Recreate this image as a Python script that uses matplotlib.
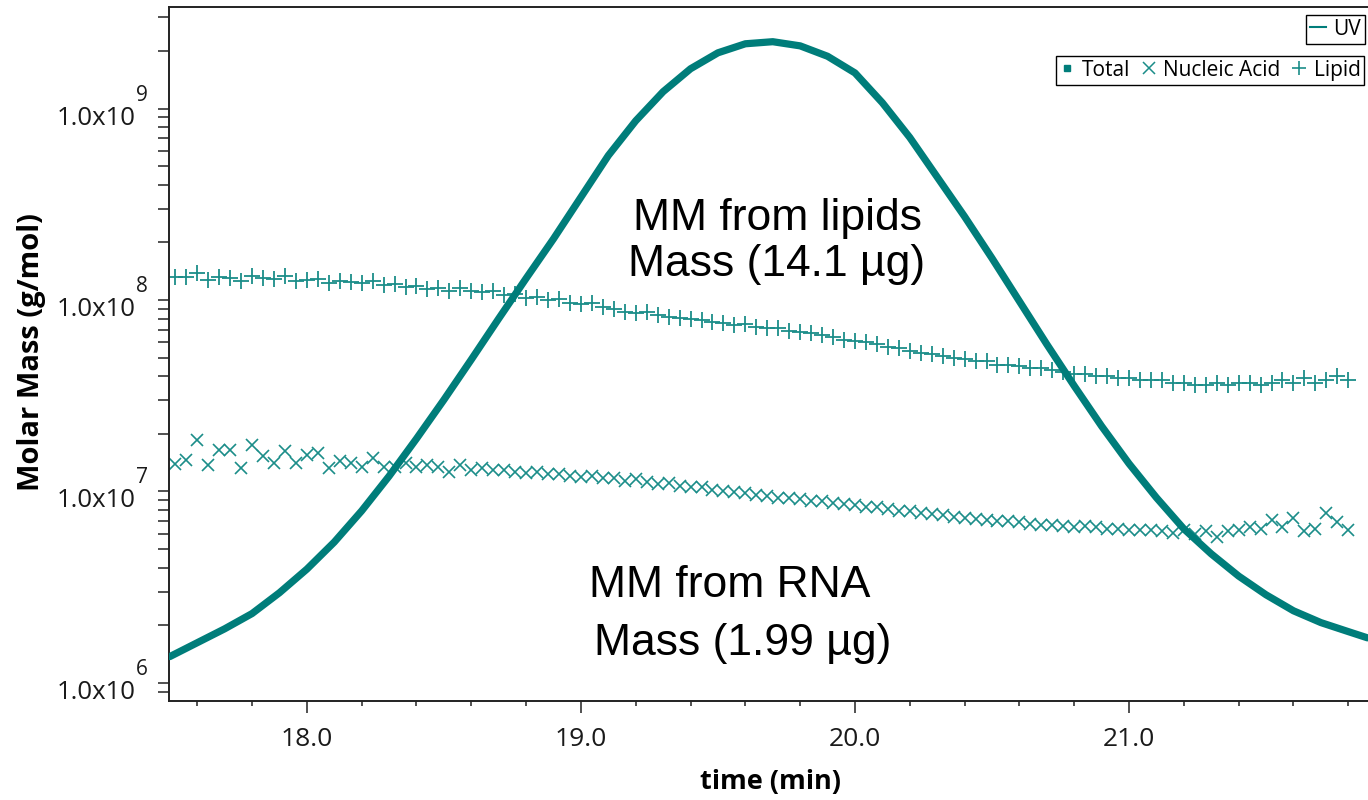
import matplotlib
matplotlib.use("Agg")
import matplotlib.pyplot as plt
import matplotlib.transforms as mtransforms
from matplotlib.lines import Line2D
from matplotlib.ticker import LogLocator, NullFormatter, MultipleLocator

# UV trace (hidden relative axis)
uv_time = [17.50, 17.60, 17.70, 17.80, 17.90, 18.00, 18.10, 18.20, 18.30, 18.40,
           18.50, 18.60, 18.70, 18.80, 18.90, 19.00, 19.10, 19.20, 19.30, 19.40,
           19.50, 19.60, 19.70, 19.80, 19.90, 20.00, 20.10, 20.20, 20.30, 20.40,
           20.50, 20.60, 20.70, 20.80, 20.90, 21.00, 21.10, 21.20, 21.30, 21.40,
           21.50, 21.60, 21.70, 21.80, 21.87]
uv_signal = [0.064, 0.084, 0.104, 0.126, 0.156, 0.190, 0.229, 0.274, 0.324, 0.378,
             0.434, 0.492, 0.551, 0.609, 0.666, 0.726, 0.786, 0.836, 0.878, 0.911,
             0.934, 0.947, 0.950, 0.944, 0.929, 0.905, 0.862, 0.812, 0.755, 0.698,
             0.638, 0.576, 0.514, 0.454, 0.396, 0.342, 0.293, 0.248, 0.212, 0.180,
             0.153, 0.130, 0.113, 0.100, 0.091]

# slices (min)
time_min = [17.52, 17.56, 17.60, 17.64, 17.68, 17.72, 17.76, 17.80, 17.84, 17.88,
            17.92, 17.96, 18.00, 18.04, 18.08, 18.12, 18.16, 18.20, 18.24, 18.28,
            18.32, 18.36, 18.40, 18.44, 18.48, 18.52, 18.56, 18.60, 18.64, 18.68,
            18.72, 18.76, 18.80, 18.84, 18.88, 18.92, 18.96, 19.00, 19.04, 19.08,
            19.12, 19.16, 19.20, 19.24, 19.28, 19.32, 19.36, 19.40, 19.44, 19.48,
            19.52, 19.56, 19.60, 19.64, 19.68, 19.72, 19.76, 19.80, 19.84, 19.88,
            19.92, 19.96, 20.00, 20.04, 20.08, 20.12, 20.16, 20.20, 20.24, 20.28,
            20.32, 20.36, 20.40, 20.44, 20.48, 20.52, 20.56, 20.60, 20.64, 20.68,
            20.72, 20.76, 20.80, 20.84, 20.88, 20.92, 20.96, 21.00, 21.04, 21.08,
            21.12, 21.16, 21.20, 21.24, 21.28, 21.32, 21.36, 21.40, 21.44, 21.48,
            21.52, 21.56, 21.60, 21.64, 21.68, 21.72, 21.76, 21.80]

# molar mass, units of 1e6 g/mol
lipid_mm = [132, 132, 138, 127, 132, 131, 125, 134, 130, 128,
            133, 126, 127, 129, 123, 126, 124, 122, 125, 120,
            121, 117, 118, 114, 116, 112, 115, 111, 110, 112,
            106, 108, 103, 104, 100, 101, 97, 95, 96, 92,
            90, 87, 86, 87, 83, 82, 81, 80, 79, 77,
            76, 74, 75, 72, 71, 71, 69, 68, 67, 66,
            64, 62, 61, 60, 59, 57, 56, 54, 53, 52,
            51, 50, 49, 48, 48, 46, 46, 45, 44, 44,
            43, 42, 41, 41, 40, 40, 39, 39, 38, 38,
            38, 37, 37, 36, 36, 37, 36, 37, 37, 36,
            37, 38, 37, 39, 37, 38, 40, 38]
nucleic_mm = [13.9, 14.6, 18.6, 13.8, 16.5, 16.4, 13.3, 17.5, 15.3, 14.1,
              16.2, 14.1, 15.5, 15.8, 13.3, 14.4, 14.1, 13.5, 15.0, 13.5,
              13.5, 14.1, 13.5, 13.8, 13.5, 12.6, 13.8, 13.0, 13.3, 13.0,
              13.0, 12.6, 12.5, 12.6, 12.4, 12.3, 12.1, 11.9, 12.0, 11.7,
              11.8, 11.4, 11.6, 11.2, 11.0, 11.1, 10.7, 10.6, 10.5, 10.2,
              10.1, 9.9, 9.8, 9.6, 9.5, 9.3, 9.3, 9.1, 8.9, 8.9,
              8.7, 8.6, 8.5, 8.3, 8.3, 8.1, 7.9, 7.9, 7.7, 7.6,
              7.5, 7.4, 7.3, 7.2, 7.1, 7.0, 7.0, 6.9, 6.8, 6.7,
              6.7, 6.6, 6.5, 6.6, 6.5, 6.4, 6.4, 6.3, 6.3, 6.3,
              6.2, 6.1, 6.3, 6.0, 6.2, 5.8, 6.2, 6.3, 6.5, 6.4,
              7.1, 6.5, 7.3, 6.2, 6.4, 7.7, 6.9, 6.3]

decades = [6, 7, 8, 9]
x_ticks = [18.0, 19.0, 20.0, 21.0]
x_tick_labels = ["18.0", "19.0", "20.0", "21.0"]

teal = "#007d7a"
teal_mk = "#1b8d89"
txt = "#1a1a1a"
ui_font = "Open Sans"

fig = plt.figure(figsize=(13.68, 8), dpi=100)
W, H = 1368.0, 800.0
ax = fig.add_axes([169.3 / W, 1 - 701 / H, 1 - 169.3 / W, (701 - 7) / H])
ax.set_yscale("log")
ax.set_xlim(17.498, 21.872)
ax.set_ylim(8.05e5, 3.39e9)

ax.plot(time_min, [v * 1e6 for v in lipid_mm], linestyle="none", marker="+",
        ms=11, mew=1.3, color=teal_mk)
ax.plot(time_min, [v * 1e6 for v in nucleic_mm], linestyle="none", marker="x",
        ms=9, mew=1.2, color=teal_mk)

ax2 = ax.twinx()
ax2.set_ylim(0, 1)
ax2.axis("off")
ax2.plot(uv_time, uv_signal, color=teal, lw=5.2, solid_joinstyle="round",
         solid_capstyle="round")

for s in ["left", "bottom", "top"]:
    ax.spines[s].set_linewidth(1.4)
    ax.spines[s].set_color("#222222")
ax.spines["right"].set_visible(False)

# x axis
ax.set_xticks(x_ticks)
ax.set_xticklabels(x_tick_labels, fontsize=19, family=ui_font, color=txt)
ax.xaxis.set_minor_locator(MultipleLocator(0.2))
ax.tick_params(axis="x", which="major", length=8.4, width=1.1, pad=10, color="#222222")
ax.tick_params(axis="x", which="minor", length=3.4, width=1.1, color="#222222")

# y axis
ax.set_yticks([10.0 ** d for d in decades])
ax.yaxis.set_minor_locator(LogLocator(base=10, subs=range(2, 10)))
ax.yaxis.set_major_formatter(NullFormatter())
ax.yaxis.set_minor_formatter(NullFormatter())
ax.tick_params(axis="y", which="both", length=8, width=1.1, color="#222222")
trans = mtransforms.blended_transform_factory(ax.transAxes, ax.transData)
for d in decades:
    ax.annotate("1.0x10", xy=(0, 10.0 ** d), xycoords=trans,
                xytext=(-34 * 0.72, -16 * 0.72), textcoords="offset points",
                ha="right", va="baseline", fontsize=18.5, family=ui_font, color=txt)
    ax.annotate(str(d), xy=(0, 10.0 ** d), xycoords=trans,
                xytext=(-33 * 0.72, 8 * 0.72), textcoords="offset points",
                ha="left", va="baseline", fontsize=15, family=ui_font, color=txt)

fig.text(770 / W, 1 - 782 / H, "time (min)", ha="center", va="center",
         fontsize=19.5, fontweight="bold", family=ui_font, color="black")
fig.text(32 / W, 1 - 352 / H, "Molar Mass (g/mol)", ha="center", va="center",
         rotation=90, fontsize=21, fontweight="bold", family=ui_font, color="black")

# legends
leg_kw = dict(prop={"family": ui_font, "size": 15}, frameon=True, fancybox=False,
              edgecolor="black", framealpha=1, borderpad=0.18, borderaxespad=0)
leg1 = fig.legend([Line2D([], [], color=teal, lw=1.5)], ["UV"],
                  loc="upper right", bbox_to_anchor=(1365 / W, 1 - 15 / H),
                  handlelength=0.8, handletextpad=0.35, **leg_kw)
leg1.get_frame().set_linewidth(1.0)
handles = [Line2D([], [], ls="none", marker="s", ms=5, color=teal),
           Line2D([], [], ls="none", marker="x", ms=9, mew=1.1, color=teal_mk),
           Line2D([], [], ls="none", marker="+", ms=10, mew=1.2, color=teal_mk)]
leg2 = fig.legend(handles, ["Total", "Nucleic Acid", "Lipid"], ncol=3,
                  loc="upper right", bbox_to_anchor=(1364.3 / W, 1 - 56 / H),
                  handlelength=0.7, handletextpad=0.35, columnspacing=0.55, **leg_kw)
leg2.get_frame().set_linewidth(1.0)

# annotations
ann = dict(fontsize=32, family="Liberation Sans", color="black", va="baseline",
           ha="center")
fig.text(777 / W, 1 - 230 / H, "MM from lipids", **ann)
fig.text(777 / W, 1 - 276 / H, "Mass (14.1 \u00b5g)", **ann)
fig.text(730 / W, 1 - 597 / H, "MM from RNA", **ann)
fig.text(743 / W, 1 - 655 / H, "Mass (1.99 \u00b5g)", **ann)

fig.savefig("out.png", dpi=100)
